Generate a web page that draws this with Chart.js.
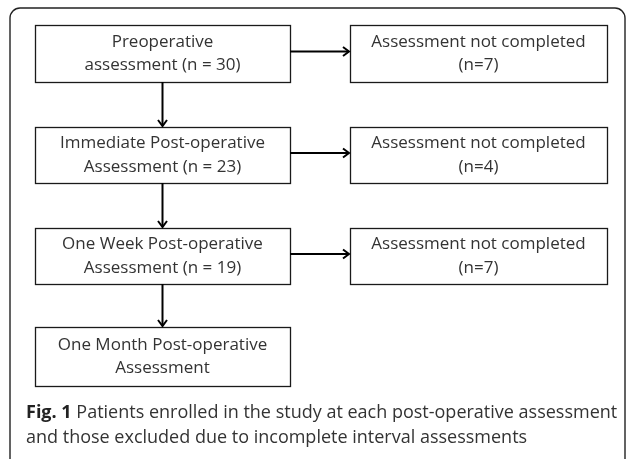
<!DOCTYPE html>
<html>
<head>
<meta charset="utf-8">
<script src="https://cdn.jsdelivr.net/npm/chart.js@4"></script>
<style>
  html, body { margin: 0; padding: 0; background: #fff; }
  #wrap { width: 627px; height: 459px; position: relative; }
</style>
</head>
<body>
<div id="wrap"><canvas id="flowChart"></canvas></div>
<script>
// flow data
var stageNames = ['Preoperative', 'Immediate Post-operative', 'One Week Post-operative', 'One Month Post-operative'];
var stageSecond = ['assessment', 'Assessment', 'Assessment', 'Assessment'];
var enrolled = [30, 23, 19, null];
var notCompleted = [7, 4, 7];
var captionBold = 'Fig. 1';
var captionLines = [' Patients enrolled in the study at each post-operative assessment',
                    'and those excluded due to incomplete interval assessments'];

// layout (in scale units == pixels)
var leftCol = [35, 290];
var rightCol = [350, 607];
var rowTop = [25, 127, 228, 327];
var rowBottom = [82, 183, 284, 386];

var boxFont = '17px "Open Sans"';
var ink = '#1a1a1a';
var textInk = '#333';

function drawArrowHead(ctx, x, y, dir) {
    ctx.beginPath();
    if (dir === 'down') {
        ctx.moveTo(x - 4.5, y - 6); ctx.lineTo(x, y); ctx.lineTo(x + 4.5, y - 6);
    } else {
        ctx.moveTo(x - 6, y - 4.5); ctx.lineTo(x, y); ctx.lineTo(x - 6, y + 4.5);
    }
    ctx.stroke();
}

var flowPlugin = {
    id: 'flow',
    afterDraw: function (chart) {
        var ctx = chart.ctx;
        var sx = chart.scales.x, sy = chart.scales.y;
        var px = function (v) { return sx.getPixelForValue(v); };
        var py = function (v) { return sy.getPixelForValue(v); };
        ctx.save();

        // outer card frame
        ctx.strokeStyle = '#222';
        ctx.lineWidth = 1.4;
        ctx.beginPath();
        ctx.roundRect(px(10), py(8), px(625) - px(10), py(470) - py(8), 10);
        ctx.stroke();

        ctx.textAlign = 'center';
        ctx.textBaseline = 'middle';

        function box(col, r, l1, l2) {
            var x0 = px(col[0]), x1 = px(col[1]), y0 = py(rowTop[r]), y1 = py(rowBottom[r]);
            ctx.strokeStyle = ink;
            ctx.lineWidth = 1.3;
            ctx.strokeRect(x0 + 0.5, y0 + 0.5, x1 - x0, y1 - y0);
            ctx.fillStyle = textInk;
            ctx.font = boxFont;
            var cx = (x0 + x1) / 2, cy = (y0 + y1) / 2;
            ctx.fillText(l1, cx, cy - 11.5);
            ctx.fillText(l2, cx, cy + 12);
        }

        stageNames.forEach(function (name, i) {
            var second = stageSecond[i] + (enrolled[i] !== null ? ' (n = ' + enrolled[i] + ')' : '');
            box(leftCol, i, name, second);
        });
        notCompleted.forEach(function (n, i) {
            box(rightCol, i, 'Assessment not completed', '(n=' + n + ')');
        });

        // arrows
        ctx.strokeStyle = '#000';
        ctx.lineWidth = 2;
        var midX = px((leftCol[0] + leftCol[1]) / 2);
        for (var i = 0; i < stageNames.length - 1; i++) {
            var yA = py(rowBottom[i]), yB = py(rowTop[i + 1]);
            ctx.beginPath(); ctx.moveTo(midX, yA); ctx.lineTo(midX, yB - 1); ctx.stroke();
            drawArrowHead(ctx, midX, yB - 1, 'down');
        }
        notCompleted.forEach(function (n, i) {
            var y = py((rowTop[i] + rowBottom[i]) / 2) - 2;
            var xa = px(leftCol[1]), xb = px(rightCol[0]);
            ctx.beginPath(); ctx.moveTo(xa, y); ctx.lineTo(xb - 1, y); ctx.stroke();
            drawArrowHead(ctx, xb - 1, y, 'right');
        });

        // caption
        ctx.textAlign = 'left';
        ctx.textBaseline = 'middle';
        var cx0 = px(26);
        ctx.font = 'bold 18px "Open Sans"';
        ctx.fillStyle = '#222';
        ctx.fillText(captionBold, cx0, py(413));
        var bw = ctx.measureText(captionBold).width;
        ctx.font = '18px "Open Sans"';
        ctx.fillStyle = '#333';
        ctx.fillText(captionLines[0], cx0 + bw, py(413));
        ctx.fillText(captionLines[1], cx0, py(438));
        ctx.restore();
    }
};

var ctx = document.getElementById('flowChart').getContext('2d');
var myChart = new Chart(ctx, {
    type: 'scatter',
    data: { datasets: [{ data: [], pointRadius: 0 }] },
    options: {
        responsive: true,
        maintainAspectRatio: false,
        animation: false,
        layout: { padding: 0 },
        plugins: { legend: { display: false }, tooltip: { enabled: false } },
        scales: {
            x: { type: 'linear', min: 0, max: 627, display: false },
            y: { type: 'linear', min: 0, max: 459, reverse: true, display: false }
        }
    },
    plugins: [flowPlugin]
});
</script>
</body>
</html>
